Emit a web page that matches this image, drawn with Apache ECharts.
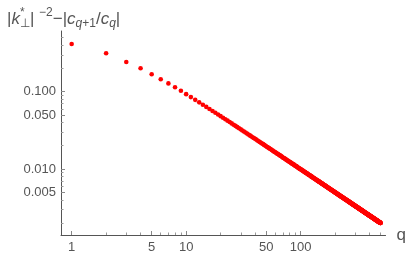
<!DOCTYPE html>
<html>
<head>
<meta charset="utf-8">
<script src="https://cdn.jsdelivr.net/npm/echarts@6/dist/echarts.min.js"></script>
<style>
html,body{margin:0;padding:0;background:#fff;}
#chart{width:409px;height:257px;}
</style>
</head>
<body>
<div id="chart"></div>
<script>
const qValues = [
1,2,3,4,5,6,7,8,9,10,11,12,13,14,15,16,17,18,19,20,
21,22,23,24,25,26,27,28,29,30,31,32,33,34,35,36,37,38,39,40,
41,42,43,44,45,46,47,48,49,50,51,52,53,54,55,56,57,58,59,60,
61,62,63,64,65,66,67,68,69,70,71,72,73,74,75,76,77,78,79,80,
81,82,83,84,85,86,87,88,89,90,91,92,93,94,95,96,97,98,99,100,
101,102,103,104,105,106,107,108,109,110,111,112,113,114,115,116,117,118,119,120,
121,122,123,124,125,126,127,128,129,130,131,132,133,134,135,136,137,138,139,140,
141,142,143,144,145,146,147,148,149,150,151,152,153,154,155,156,157,158,159,160,
161,162,163,164,165,166,167,168,169,170,171,172,173,174,175,176,177,178,179,180,
181,182,183,184,185,186,187,188,189,190,191,192,193,194,195,196,197,198,199,200,
201,202,203,204,205,206,207,208,209,210,211,212,213,214,215,216,217,218,219,220,
221,222,223,224,225,226,227,228,229,230,231,232,233,234,235,236,237,238,239,240,
241,242,243,244,245,246,247,248,249,250,251,252,253,254,255,256,257,258,259,260,
261,262,263,264,265,266,267,268,269,270,271,272,273,274,275,276,277,278,279,280,
281,282,283,284,285,286,287,288,289,290,291,292,293,294,295,296,297,298,299,300,
301,302,303,304,305,306,307,308,309,310,311,312,313,314,315,316,317,318,319,320,
321,322,323,324,325,326,327,328,329,330,331,332,333,334,335,336,337,338,339,340,
341,342,343,344,345,346,347,348,349,350,351,352,353,354,355,356,357,358,359,360,
361,362,363,364,365,366,367,368,369,370,371,372,373,374,375,376,377,378,379,380,
381,382,383,384,385,386,387,388,389,390,391,392,393,394,395,396,397,398,399,400,
401,402,403,404,405,406,407,408,409,410,411,412,413,414,415,416,417,418,419,420,
421,422,423,424,425,426,427,428,429,430,431,432,433,434,435,436,437,438,439,440,
441,442,443,444,445,446,447,448,449,450,451,452,453,454,455,456,457,458,459,460,
461,462,463,464,465,466,467,468,469,470,471,472,473,474,475,476,477,478,479,480,
481,482,483,484,485,486,487,488,489,490,491,492,493,494,495,496,497,498,499,500
];
const diffValues = [
0.414,0.314,0.242,0.201,0.168,0.145,0.128,0.114,0.103,
0.0930,0.0851,0.0785,0.0728,0.0679,0.0636,0.0598,0.0564,0.0534,0.0507,
0.0483,0.0460,0.0440,0.0422,0.0405,0.0389,0.0374,0.0361,0.0348,0.0337,
0.0326,0.0315,0.0306,0.0297,0.0288,0.0280,0.0272,0.0265,0.0258,0.0252,
0.0246,0.0240,0.0234,0.0229,0.0224,0.0219,0.0214,0.0210,0.0205,0.0201,
0.0197,0.0193,0.0190,0.0186,0.0183,0.0180,0.0176,0.0173,0.0170,0.0167,
0.0165,0.0162,0.0159,0.0157,0.0155,0.0152,0.0150,0.0148,0.0146,0.0143,
0.0141,0.0139,0.0138,0.0136,0.0134,0.0132,0.0130,0.0129,0.0127,0.0125,
0.0124,0.0122,0.0121,0.0119,0.0118,0.0117,0.0115,0.0114,0.0113,0.0111,
0.0110,0.0109,0.0108,0.0107,0.0106,0.0104,0.0103,0.0102,0.0101,0.0100,
0.00993,
0.00983,0.00974,0.00964,0.00955,0.00946,0.00937,0.00929,0.00920,0.00912,0.00903,
0.00895,0.00887,0.00880,0.00872,0.00864,0.00857,0.00850,0.00842,0.00835,0.00829,
0.00822,0.00815,0.00808,0.00802,0.00796,0.00789,0.00783,0.00777,0.00771,0.00765,
0.00759,0.00754,0.00748,0.00742,0.00737,0.00732,0.00726,0.00721,0.00716,0.00711,
0.00706,0.00701,0.00696,0.00691,0.00686,0.00682,0.00677,0.00673,0.00668,0.00664,
0.00659,0.00655,0.00651,0.00646,0.00642,0.00638,0.00634,0.00630,0.00626,0.00622,
0.00618,0.00615,0.00611,0.00607,0.00604,0.00600,0.00596,0.00593,0.00589,0.00586,
0.00582,0.00579,0.00576,0.00572,0.00569,0.00566,0.00563,0.00560,0.00556,0.00553,
0.00550,0.00547,0.00544,0.00541,0.00539,0.00536,0.00533,0.00530,0.00527,0.00524,
0.00522,0.00519,0.00516,0.00514,0.00511,0.00508,0.00506,0.00503,0.00501,0.00498,
0.00496,0.00493,0.00491,0.00489,0.00486,0.00484,0.00481,0.00479,0.00477,0.00475,
0.00472,0.00470,0.00468,0.00466,0.00464,0.00461,0.00459,0.00457,0.00455,0.00453,
0.00451,0.00449,0.00447,0.00445,0.00443,0.00441,0.00439,0.00437,0.00435,0.00433,
0.00432,0.00430,0.00428,0.00426,0.00424,0.00422,0.00421,0.00419,0.00417,0.00415,
0.00414,0.00412,0.00410,0.00409,0.00407,0.00405,0.00404,0.00402,0.00400,0.00399,
0.00397,0.00396,0.00394,0.00393,0.00391,0.00390,0.00388,0.00387,0.00385,0.00384,
0.00382,0.00381,0.00379,0.00378,0.00376,0.00375,0.00374,0.00372,0.00371,0.00369,
0.00368,0.00367,0.00365,0.00364,0.00363,0.00361,0.00360,0.00359,0.00358,0.00356,
0.00355,0.00354,0.00352,0.00351,0.00350,0.00349,0.00348,0.00346,0.00345,0.00344,
0.00343,0.00342,0.00340,0.00339,0.00338,0.00337,0.00336,0.00335,0.00334,0.00333,
0.00331,0.00330,0.00329,0.00328,0.00327,0.00326,0.00325,0.00324,0.00323,0.00322,
0.00321,0.00320,0.00319,0.00318,0.00317,0.00316,0.00315,0.00314,0.00313,0.00312,
0.00311,0.00310,0.00309,0.00308,0.00307,0.00306,0.00305,0.00304,0.00303,0.00302,
0.00301,0.00301,0.00300,0.00299,0.00298,0.00297,0.00296,0.00295,0.00294,0.00294,
0.00293,0.00292,0.00291,0.00290,0.00289,0.00288,0.00288,0.00287,0.00286,0.00285,
0.00284,0.00284,0.00283,0.00282,0.00281,0.00280,0.00280,0.00279,0.00278,0.00277,
0.00276,0.00276,0.00275,0.00274,0.00273,0.00273,0.00272,0.00271,0.00270,0.00270,
0.00269,0.00268,0.00268,0.00267,0.00266,0.00265,0.00265,0.00264,0.00263,0.00263,
0.00262,0.00261,0.00261,0.00260,0.00259,0.00259,0.00258,0.00257,0.00257,0.00256,
0.00255,0.00255,0.00254,0.00253,0.00253,0.00252,0.00251,0.00251,0.00250,0.00250,
0.00249,0.00248,0.00248,0.00247,0.00246,0.00246,0.00245,0.00245,0.00244,0.00243,
0.00243,0.00242,0.00242,0.00241,0.00241,0.00240,0.00239,0.00239,0.00238,0.00238,
0.00237,0.00237,0.00236,0.00235,0.00235,0.00234,0.00234,0.00233,0.00233,0.00232,
0.00232,0.00231,0.00231,0.00230,0.00230,0.00229,0.00228,0.00228,0.00227,0.00227,
0.00226,0.00226,0.00225,0.00225,0.00224,0.00224,0.00223,0.00223,0.00222,0.00222,
0.00221,0.00221,0.00220,0.00220,0.00219,0.00219,0.00218,0.00218,0.00218,0.00217,
0.00217,0.00216,0.00216,0.00215,0.00215,0.00214,0.00214,0.00213,0.00213,0.00212,
0.00212,0.00212,0.00211,0.00211,0.00210,0.00210,0.00209,0.00209,0.00208,0.00208,
0.00208,0.00207,0.00207,0.00206,0.00206,0.00205,0.00205,0.00205,0.00204,0.00204,
0.00203,0.00203,0.00203,0.00202,0.00202,0.00201,0.00201,0.00201,0.00200,0.00200
];
const xMajorTicks = [1, 5, 10, 50, 100];
const xMinorTicks = [2,3,4,6,7,8,9,20,30,40,60,70,80,90,200,300,400,500];
const yMajorTicks = [0.005, 0.01, 0.05, 0.1];
const yMinorTicks = [0.002,0.003,0.004,0.006,0.007,0.008,0.009,0.02,0.03,0.04,0.06,0.07,0.08,0.09,0.2,0.3,0.4,0.5];
const xRange = [0.807, 552];
const yRange = [0.0014, 0.61];

const points = qValues.map((q, i) => [q, diffValues[i]]);

const axisColor = '#555';
const textColor = '#555';
const font = 'Liberation Sans, Arial, sans-serif';

const chart = echarts.init(document.getElementById('chart'), null, {renderer: 'canvas'});
chart.setOption({
  animation: false,
  backgroundColor: '#fff',
  title: {
    left: 2, top: 1,
    text: '|{it|k}{supz|*}{sub|⊥}| {sup|−2}−|{it|c}{subi|q}{sub|+1}/{it|c}{subi|q}|',
    textStyle: {
      fontFamily: font, fontSize: 17, fontWeight: 'normal', color: textColor, lineHeight: 26,
      rich: {
        it: {fontFamily: font, fontSize: 17, fontStyle: 'italic', color: textColor, lineHeight: 26},
        sup: {fontFamily: font, fontSize: 12, color: textColor, lineHeight: 26, padding: [0,0,12,0]},
        supz: {fontFamily: font, fontSize: 12, color: textColor, lineHeight: 26, padding: [0,0,12,0], width: 0},
        sub: {fontFamily: font, fontSize: 12, color: textColor, lineHeight: 26, padding: [9,0,0,0]},
        subi: {fontFamily: font, fontSize: 12, fontStyle: 'italic', color: textColor, lineHeight: 26, padding: [9,0,0,0]}
      }
    }
  },
  grid: {left: 61, right: 22, top: 31, bottom: 22, containLabel: false},
  xAxis: [
    {
      type: 'log', logBase: 10, min: xRange[0], max: xRange[1],
      name: 'q', nameLocation: 'end', nameGap: 11,
      nameTextStyle: {fontFamily: font, fontSize: 17, color: textColor, verticalAlign: 'middle'},
      axisLine: {show: true, lineStyle: {color: axisColor, width: 1}},
      axisTick: {show: true, inside: true, length: 4, customValues: xMajorTicks, lineStyle: {color: '#888'}},
      axisLabel: {show: true, customValues: xMajorTicks, margin: 6, fontFamily: font, fontSize: 13, color: textColor,
        formatter: v => String(Math.round(v))},
      splitLine: {show: false}, minorTick: {show: false}, minorSplitLine: {show: false}
    },
    {
      type: 'log', logBase: 10, min: xRange[0], max: xRange[1], position: 'bottom',
      axisLine: {show: false},
      axisTick: {show: true, inside: true, length: 2.5, customValues: xMinorTicks, lineStyle: {color: '#999'}},
      axisLabel: {show: false}, splitLine: {show: false}
    }
  ],
  yAxis: [
    {
      type: 'log', logBase: 10, min: yRange[0], max: yRange[1],
      axisLine: {show: true, lineStyle: {color: axisColor, width: 1}},
      axisTick: {show: true, inside: true, length: 4, customValues: yMajorTicks, lineStyle: {color: '#888'}},
      axisLabel: {show: true, customValues: yMajorTicks, margin: 5, fontFamily: font, fontSize: 13, color: textColor,
        formatter: v => v.toFixed(3)},
      splitLine: {show: false}, minorTick: {show: false}, minorSplitLine: {show: false}
    },
    {
      type: 'log', logBase: 10, min: yRange[0], max: yRange[1], position: 'left',
      axisLine: {show: false},
      axisTick: {show: true, inside: true, length: 2.5, customValues: yMinorTicks, lineStyle: {color: '#999'}},
      axisLabel: {show: false}, splitLine: {show: false}
    }
  ],
  series: [{
    type: 'scatter',
    xAxisIndex: 0, yAxisIndex: 0,
    data: points,
    symbol: 'circle',
    symbolSize: 4.6,
    itemStyle: {color: '#ff0000', opacity: 1},
    silent: true
  }]
});
</script>
</body>
</html>
